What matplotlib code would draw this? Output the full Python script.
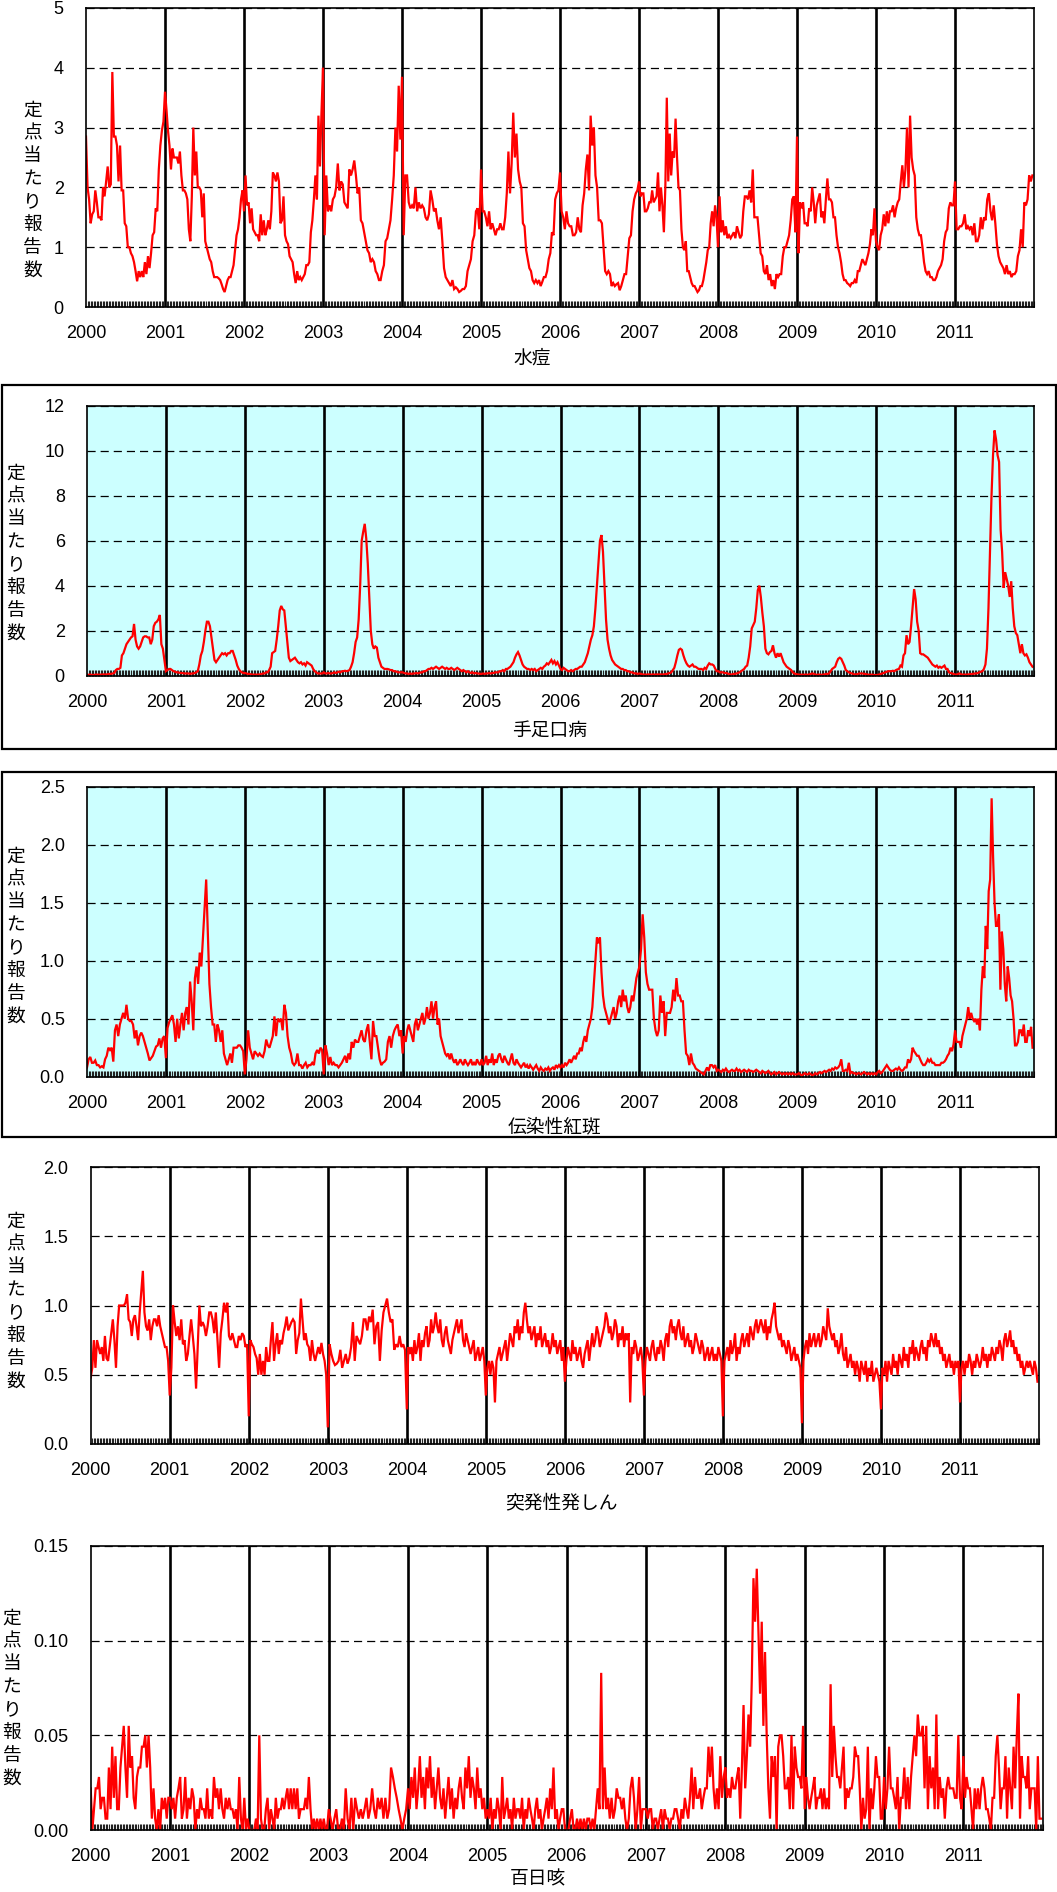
import numpy as np
import matplotlib
matplotlib.use("Agg")
import matplotlib.pyplot as plt
from matplotlib.patches import Rectangle

plt.rcParams["font.family"] = ["Liberation Sans", "Noto Sans CJK JP", "DejaVu Sans"]

years = list(range(2000, 2012))
year_labels = [str(y) for y in years]
ylabel_text = "定点当たり報告数"
disease_names = ["水痘", "手足口病", "伝染性紅斑", "突発性発しん", "百日咳"]

# Weekly reports per sentinel site, one list per year
varicella = {
    2000: [2.85, 2.0, 1.8, 1.4, 1.55, 1.6, 1.95, 1.75, 1.5, 1.5, 1.45, 2.0, 1.85, 2.1, 2.35, 2.0, 2.05, 3.93, 2.85, 2.85, 2.7, 2.1, 2.7, 1.95, 1.95, 1.4, 1.35, 1.0, 1.0, 0.9, 0.85, 0.75, 0.6, 0.43, 0.6, 0.5, 0.6, 0.5, 0.75, 0.55, 0.85, 0.65, 0.9, 1.2, 1.25, 1.65, 1.6, 2.3, 2.7, 2.95, 3.1],
    2001: [3.6, 3.3, 2.95, 2.7, 2.3, 2.65, 2.5, 2.5, 2.5, 2.4, 2.6, 2.2, 1.95, 1.95, 1.9, 1.8, 1.3, 1.1, 1.85, 3.0, 2.2, 2.6, 2.0, 2.0, 1.95, 1.5, 1.9, 1.1, 1.0, 0.9, 0.8, 0.75, 0.6, 0.5, 0.5, 0.5, 0.48, 0.45, 0.38, 0.3, 0.25, 0.35, 0.45, 0.5, 0.5, 0.6, 0.7, 0.95, 1.2, 1.3, 1.5, 1.8, 1.95],
    2002: [1.6, 2.2, 1.7, 1.75, 1.4, 1.65, 1.3, 1.25, 1.2, 1.2, 1.1, 1.55, 1.2, 1.45, 1.2, 1.3, 1.45, 1.3, 1.6, 2.25, 2.2, 2.1, 2.25, 2.1, 1.4, 1.45, 1.85, 1.2, 1.1, 1.05, 0.85, 0.8, 0.75, 0.55, 0.4, 0.6, 0.45, 0.5, 0.45, 0.5, 0.55, 0.7, 0.7, 0.75, 1.25, 1.45, 1.8, 2.2, 1.8, 3.2, 2.35, 3.25],
    2003: [4.0, 1.2, 2.2, 1.6, 1.7, 1.6, 1.8, 1.85, 2.0, 2.4, 1.95, 2.1, 2.05, 1.75, 1.7, 1.65, 2.3, 2.2, 2.3, 2.45, 2.2, 1.9, 2.0, 1.45, 1.4, 1.25, 1.1, 0.95, 0.9, 0.75, 0.8, 0.75, 0.6, 0.55, 0.45, 0.45, 0.6, 0.7, 1.1, 1.15, 1.3, 1.45, 1.8, 2.2, 3.0, 2.6, 3.7, 2.8],
    2004: [3.85, 1.2, 2.2, 2.2, 1.75, 1.65, 1.7, 1.65, 2.0, 1.6, 1.75, 1.65, 1.7, 1.65, 1.5, 1.45, 1.55, 1.95, 1.8, 1.6, 1.65, 1.45, 1.3, 1.5, 1.1, 0.65, 0.5, 0.45, 0.4, 0.35, 0.45, 0.3, 0.33, 0.3, 0.25, 0.27, 0.3, 0.3, 0.35, 0.6, 0.7, 0.8, 1.1, 1.2, 1.6, 1.65, 1.3],
    2005: [2.3, 1.6, 1.6, 1.5, 1.35, 1.6, 1.3, 1.4, 1.3, 1.2, 1.3, 1.3, 1.4, 1.3, 1.3, 1.5, 1.9, 2.6, 1.9, 2.4, 3.25, 2.5, 2.9, 2.3, 2.1, 2.0, 1.4, 1.35, 0.95, 0.8, 0.65, 0.6, 0.45, 0.4, 0.45, 0.4, 0.45, 0.35, 0.42, 0.5, 0.5, 0.6, 0.8, 0.9, 1.25, 1.2, 1.8, 1.9, 1.95],
    2006: [2.25, 1.6, 1.5, 1.3, 1.6, 1.4, 1.35, 1.35, 1.2, 1.2, 1.25, 1.5, 1.3, 1.25, 1.7, 1.9, 2.3, 2.55, 1.95, 3.2, 2.7, 3.0, 2.2, 2.0, 1.45, 1.45, 1.4, 1.0, 0.6, 0.55, 0.6, 0.55, 0.35, 0.4, 0.35, 0.38, 0.4, 0.28, 0.35, 0.45, 0.55, 0.55, 0.85, 1.15, 1.2, 1.6, 1.8, 1.9, 1.95],
    2007: [2.1, 1.85, 1.9, 1.9, 1.6, 1.6, 1.65, 1.75, 1.75, 1.95, 1.75, 1.8, 1.85, 2.25, 1.6, 2.0, 1.7, 1.25, 2.0, 3.5, 2.1, 2.9, 2.2, 2.6, 2.5, 3.15, 2.5, 2.0, 1.95, 1.3, 1.0, 0.95, 1.1, 0.6, 0.6, 0.5, 0.4, 0.35, 0.35, 0.3, 0.25, 0.28, 0.35, 0.35, 0.45, 0.6, 0.75, 0.95, 1.0, 1.4, 1.6, 1.35, 1.7, 1.5],
    2008: [1.0, 1.85, 1.25, 1.45, 1.2, 1.35, 1.15, 1.2, 1.15, 1.2, 1.25, 1.15, 1.35, 1.25, 1.15, 1.2, 1.6, 1.85, 1.85, 1.8, 1.95, 1.75, 2.3, 1.5, 1.5, 1.5, 1.2, 0.9, 0.85, 0.6, 0.55, 0.7, 0.45, 0.55, 0.35, 0.45, 0.3, 0.55, 0.5, 0.55, 0.55, 0.85, 1.0, 1.0, 1.1, 1.2, 1.45, 1.8, 1.85, 1.25],
    2009: [2.85, 0.9, 1.75, 1.65, 1.75, 1.4, 1.4, 1.35, 1.65, 1.6, 2.0, 1.75, 1.4, 1.7, 1.8, 1.9, 1.5, 1.6, 1.4, 1.8, 2.15, 1.8, 1.8, 1.75, 1.5, 1.5, 1.2, 1.0, 0.9, 0.75, 0.55, 0.45, 0.45, 0.4, 0.38, 0.35, 0.4, 0.4, 0.45, 0.4, 0.6, 0.6, 0.7, 0.8, 0.75, 0.7, 0.8, 0.9, 1.05, 1.3, 1.2, 1.65],
    2010: [1.1, 1.0, 0.95, 1.2, 1.3, 1.55, 1.35, 1.6, 1.4, 1.6, 1.6, 1.7, 1.5, 1.65, 1.75, 1.8, 2.1, 2.37, 2.0, 2.3, 3.0, 2.0, 3.2, 2.5, 2.3, 2.2, 1.5, 1.3, 1.2, 1.2, 1.0, 0.75, 0.6, 0.55, 0.6, 0.5, 0.5, 0.45, 0.45, 0.5, 0.6, 0.65, 0.7, 0.8, 1.1, 1.25, 1.3, 1.65, 1.75, 1.7, 1.7],
    2011: [2.1, 1.3, 1.3, 1.35, 1.35, 1.4, 1.55, 1.3, 1.35, 1.3, 1.35, 1.2, 1.4, 1.1, 1.1, 1.2, 1.5, 1.3, 1.5, 1.45, 1.8, 1.9, 1.6, 1.45, 1.7, 1.4, 1.05, 0.85, 0.75, 0.7, 0.65, 0.55, 0.7, 0.55, 0.6, 0.5, 0.55, 0.55, 0.6, 0.85, 0.95, 1.3, 1.0, 1.75, 1.7, 1.8, 2.2, 2.1, 2.2],
}

hfmd = {
    2000: [0.05, 0.04, 0.05, 0.04, 0.03, 0.04, 0.05, 0.05, 0.04, 0.05, 0.05, 0.06, 0.05, 0.06, 0.07, 0.08, 0.08, 0.1, 0.12, 0.25, 0.3, 0.3, 0.35, 0.9, 1.0, 1.2, 1.4, 1.5, 1.6, 1.7, 1.75, 2.3, 1.6, 1.3, 1.2, 1.3, 1.5, 1.7, 1.75, 1.75, 1.7, 1.7, 1.4, 1.6, 2.2, 2.35, 2.4, 2.5, 2.7, 1.4, 1.2, 0.7],
    2001: [0.2, 0.25, 0.3, 0.3, 0.25, 0.2, 0.18, 0.15, 0.15, 0.13, 0.12, 0.12, 0.1, 0.1, 0.1, 0.1, 0.08, 0.1, 0.1, 0.12, 0.15, 0.2, 0.5, 0.9, 1.1, 1.5, 2.0, 2.4, 2.4, 2.2, 1.7, 1.2, 0.7, 0.6, 0.7, 0.8, 0.9, 1.0, 0.95, 1.0, 0.9, 1.0, 1.0, 1.1, 1.1, 0.9, 0.7, 0.45, 0.3, 0.2, 0.15, 0.12],
    2002: [0.12, 0.1, 0.08, 0.08, 0.06, 0.05, 0.05, 0.05, 0.05, 0.05, 0.06, 0.08, 0.1, 0.1, 0.15, 0.15, 0.25, 0.4, 1.0, 1.05, 1.1, 1.6, 2.2, 2.9, 3.1, 2.95, 2.9, 2.2, 1.5, 0.8, 0.65, 0.7, 0.75, 0.8, 0.7, 0.6, 0.55, 0.6, 0.5, 0.55, 0.45, 0.6, 0.55, 0.5, 0.45, 0.3, 0.2, 0.15, 0.1, 0.1, 0.1, 0.1],
    2003: [0.15, 0.1, 0.1, 0.12, 0.1, 0.1, 0.12, 0.15, 0.12, 0.15, 0.18, 0.15, 0.2, 0.2, 0.22, 0.2, 0.22, 0.25, 0.4, 0.6, 1.0, 1.5, 1.7, 2.5, 4.0, 6.0, 6.4, 6.75, 6.1, 5.0, 3.5, 2.0, 1.4, 1.2, 1.3, 1.25, 0.8, 0.6, 0.4, 0.35, 0.3, 0.3, 0.3, 0.28, 0.25, 0.25, 0.2, 0.2, 0.18, 0.15, 0.15, 0.15],
    2004: [0.15, 0.12, 0.1, 0.1, 0.08, 0.1, 0.08, 0.1, 0.1, 0.12, 0.1, 0.12, 0.15, 0.15, 0.2, 0.2, 0.25, 0.3, 0.3, 0.35, 0.3, 0.35, 0.4, 0.35, 0.3, 0.35, 0.4, 0.35, 0.3, 0.35, 0.3, 0.3, 0.35, 0.3, 0.25, 0.3, 0.35, 0.3, 0.25, 0.2, 0.25, 0.2, 0.15, 0.2, 0.15, 0.12, 0.15, 0.1, 0.12, 0.1, 0.1, 0.08],
    2005: [0.08, 0.1, 0.08, 0.1, 0.1, 0.12, 0.1, 0.12, 0.12, 0.15, 0.15, 0.15, 0.2, 0.2, 0.25, 0.2, 0.3, 0.3, 0.35, 0.4, 0.5, 0.6, 0.8, 0.95, 1.05, 0.9, 0.7, 0.5, 0.4, 0.35, 0.3, 0.3, 0.25, 0.3, 0.25, 0.3, 0.2, 0.25, 0.3, 0.35, 0.3, 0.4, 0.45, 0.55, 0.5, 0.6, 0.7, 0.55, 0.65, 0.5, 0.6, 0.45],
    2006: [0.3, 0.25, 0.35, 0.3, 0.25, 0.2, 0.2, 0.25, 0.2, 0.25, 0.3, 0.3, 0.35, 0.4, 0.4, 0.5, 0.6, 0.8, 1.0, 1.3, 1.6, 1.8, 2.2, 3.0, 4.0, 5.0, 6.0, 6.25, 5.5, 4.0, 2.5, 1.6, 1.2, 0.9, 0.7, 0.6, 0.5, 0.45, 0.4, 0.35, 0.3, 0.3, 0.25, 0.25, 0.2, 0.2, 0.15, 0.15, 0.12, 0.1, 0.1, 0.08],
    2007: [0.1, 0.08, 0.06, 0.05, 0.05, 0.05, 0.06, 0.05, 0.05, 0.06, 0.05, 0.05, 0.06, 0.05, 0.06, 0.05, 0.06, 0.07, 0.08, 0.1, 0.12, 0.15, 0.25, 0.35, 0.6, 0.9, 1.15, 1.2, 1.15, 0.9, 0.7, 0.55, 0.45, 0.4, 0.45, 0.5, 0.4, 0.4, 0.35, 0.3, 0.3, 0.3, 0.25, 0.35, 0.3, 0.45, 0.55, 0.5, 0.5, 0.45, 0.3, 0.2],
    2008: [0.2, 0.15, 0.15, 0.15, 0.12, 0.12, 0.1, 0.08, 0.05, 0.06, 0.08, 0.08, 0.1, 0.12, 0.15, 0.2, 0.25, 0.3, 0.4, 0.45, 0.8, 1.3, 2.1, 2.25, 2.4, 3.0, 3.8, 4.0, 3.5, 2.8, 2.2, 1.2, 1.0, 0.95, 1.05, 1.1, 1.35, 1.0, 0.8, 1.0, 0.85, 1.0, 0.8, 0.6, 0.5, 0.4, 0.35, 0.3, 0.25, 0.15, 0.1, 0.08],
    2009: [0.06, 0.05, 0.04, 0.05, 0.04, 0.05, 0.05, 0.04, 0.06, 0.08, 0.1, 0.08, 0.05, 0.04, 0.05, 0.05, 0.04, 0.05, 0.06, 0.08, 0.08, 0.1, 0.2, 0.3, 0.35, 0.4, 0.6, 0.75, 0.8, 0.75, 0.6, 0.45, 0.25, 0.2, 0.15, 0.12, 0.1, 0.08, 0.05, 0.06, 0.08, 0.1, 0.1, 0.1, 0.08, 0.08, 0.05, 0.05, 0.04, 0.05, 0.04, 0.03],
    2010: [0.03, 0.04, 0.05, 0.08, 0.1, 0.12, 0.15, 0.18, 0.2, 0.2, 0.2, 0.22, 0.2, 0.25, 0.28, 0.3, 0.45, 0.4, 0.9, 1.0, 1.8, 1.4, 1.5, 2.2, 3.0, 3.85, 3.4, 2.4, 2.0, 1.0, 0.95, 0.95, 0.9, 0.85, 0.8, 0.7, 0.6, 0.5, 0.45, 0.4, 0.45, 0.35, 0.4, 0.35, 0.4, 0.45, 0.3, 0.3, 0.15, 0.12, 0.1, 0.08],
    2011: [0.05, 0.05, 0.08, 0.1, 0.06, 0.05, 0.05, 0.05, 0.05, 0.06, 0.07, 0.08, 0.08, 0.1, 0.1, 0.12, 0.15, 0.18, 0.2, 0.3, 0.5, 1.2, 3.0, 5.5, 8.0, 9.8, 10.9, 10.5, 9.8, 9.5, 6.5, 5.5, 3.9, 4.6, 4.3, 4.0, 3.5, 4.2, 3.0, 2.2, 1.9, 1.8, 1.4, 1.0, 1.4, 1.0, 0.9, 0.95, 0.8, 0.6, 0.5, 0.4],
}

erythema = {
    2000: [0.08, 0.15, 0.17, 0.12, 0.12, 0.14, 0.1, 0.1, 0.08, 0.09, 0.08, 0.15, 0.18, 0.25, 0.23, 0.25, 0.13, 0.4, 0.45, 0.35, 0.45, 0.5, 0.55, 0.5, 0.62, 0.5, 0.48, 0.48, 0.45, 0.33, 0.4, 0.27, 0.35, 0.38, 0.35, 0.3, 0.25, 0.2, 0.14, 0.16, 0.18, 0.22, 0.26, 0.27, 0.33, 0.25, 0.33, 0.35],
    2001: [0.16, 0.42, 0.47, 0.5, 0.53, 0.45, 0.3, 0.5, 0.33, 0.45, 0.55, 0.4, 0.55, 0.6, 0.45, 0.82, 0.65, 0.4, 0.85, 0.95, 0.8, 1.07, 0.95, 1.2, 1.45, 1.7, 1.25, 0.8, 0.6, 0.45, 0.45, 0.3, 0.45, 0.4, 0.3, 0.4, 0.2, 0.15, 0.1, 0.15, 0.2, 0.12, 0.25, 0.25, 0.25, 0.27, 0.27, 0.25, 0.22],
    2002: [0.02, 0.15, 0.4, 0.25, 0.2, 0.15, 0.22, 0.2, 0.18, 0.2, 0.18, 0.17, 0.22, 0.32, 0.27, 0.25, 0.3, 0.35, 0.52, 0.35, 0.5, 0.48, 0.5, 0.4, 0.62, 0.55, 0.35, 0.25, 0.2, 0.12, 0.1, 0.12, 0.2, 0.1, 0.1, 0.07, 0.1, 0.12, 0.08, 0.1, 0.1, 0.12, 0.1, 0.2, 0.23, 0.2, 0.25, 0.23],
    2003: [0.02, 0.27, 0.2, 0.1, 0.17, 0.1, 0.12, 0.1, 0.1, 0.08, 0.1, 0.12, 0.15, 0.18, 0.12, 0.2, 0.15, 0.3, 0.25, 0.32, 0.3, 0.3, 0.35, 0.4, 0.32, 0.3, 0.4, 0.45, 0.3, 0.15, 0.48, 0.35, 0.35, 0.25, 0.15, 0.1, 0.12, 0.13, 0.15, 0.3, 0.35, 0.25, 0.35, 0.4, 0.43, 0.45, 0.35, 0.4],
    2004: [0.2, 0.35, 0.3, 0.4, 0.45, 0.4, 0.35, 0.3, 0.45, 0.5, 0.4, 0.45, 0.5, 0.55, 0.45, 0.5, 0.6, 0.5, 0.55, 0.65, 0.5, 0.6, 0.65, 0.45, 0.5, 0.35, 0.3, 0.25, 0.2, 0.18, 0.2, 0.15, 0.2, 0.15, 0.12, 0.15, 0.1, 0.12, 0.15, 0.12, 0.1, 0.15, 0.12, 0.1, 0.12, 0.15, 0.1, 0.12, 0.1, 0.15, 0.12, 0.1],
    2005: [0.15, 0.1, 0.12, 0.18, 0.1, 0.15, 0.12, 0.2, 0.1, 0.15, 0.12, 0.18, 0.2, 0.15, 0.12, 0.18, 0.15, 0.12, 0.1, 0.15, 0.2, 0.12, 0.1, 0.15, 0.12, 0.1, 0.08, 0.1, 0.12, 0.08, 0.1, 0.07, 0.1, 0.08, 0.06, 0.08, 0.1, 0.07, 0.05, 0.08, 0.06, 0.05, 0.07, 0.06, 0.08, 0.05, 0.07, 0.08, 0.06, 0.1, 0.08, 0.1],
    2006: [0.08, 0.1, 0.08, 0.12, 0.1, 0.12, 0.15, 0.12, 0.15, 0.18, 0.15, 0.2, 0.2, 0.25, 0.22, 0.3, 0.35, 0.3, 0.4, 0.45, 0.5, 0.6, 0.8, 1.0, 1.2, 1.15, 1.2, 0.9, 0.7, 0.6, 0.55, 0.5, 0.45, 0.5, 0.55, 0.6, 0.5, 0.55, 0.65, 0.7, 0.6, 0.75, 0.65, 0.7, 0.6, 0.55, 0.6, 0.7, 0.65, 0.75, 0.85, 0.9],
    2007: [0.95, 1.1, 1.4, 1.2, 0.9, 0.8, 0.75, 0.75, 0.75, 0.5, 0.4, 0.35, 0.4, 0.7, 0.55, 0.65, 0.35, 0.55, 0.55, 0.55, 0.6, 0.75, 0.65, 0.85, 0.7, 0.7, 0.65, 0.65, 0.4, 0.2, 0.18, 0.1, 0.2, 0.12, 0.1, 0.07, 0.06, 0.05, 0.04, 0.03, 0.02, 0.05, 0.08, 0.05, 0.1, 0.1, 0.08, 0.1, 0.05],
    2008: [0.06, 0.05, 0.04, 0.06, 0.05, 0.07, 0.05, 0.04, 0.05, 0.06, 0.05, 0.05, 0.07, 0.05, 0.06, 0.04, 0.05, 0.06, 0.05, 0.04, 0.06, 0.05, 0.05, 0.04, 0.05, 0.06, 0.05, 0.04, 0.03, 0.05, 0.04, 0.03, 0.04, 0.05, 0.03, 0.02, 0.03, 0.04, 0.02, 0.03, 0.04, 0.03, 0.02, 0.03, 0.02, 0.03, 0.02, 0.03, 0.02, 0.03, 0.02, 0.02],
    2009: [0.02, 0.03, 0.02, 0.01, 0.02, 0.03, 0.02, 0.02, 0.03, 0.02, 0.01, 0.02, 0.03, 0.02, 0.03, 0.04, 0.03, 0.04, 0.05, 0.04, 0.05, 0.06, 0.05, 0.07, 0.06, 0.08, 0.07, 0.08, 0.1, 0.15, 0.05, 0.05, 0.06, 0.05, 0.12, 0.03, 0.04, 0.03, 0.03, 0.02, 0.03, 0.03, 0.02, 0.03, 0.04, 0.03, 0.02, 0.03, 0.02, 0.03, 0.02, 0.03],
    2010: [0.02, 0.04, 0.05, 0.03, 0.04, 0.06, 0.08, 0.1, 0.08, 0.06, 0.05, 0.05, 0.06, 0.07, 0.06, 0.08, 0.06, 0.05, 0.06, 0.08, 0.08, 0.15, 0.12, 0.15, 0.25, 0.22, 0.2, 0.18, 0.18, 0.15, 0.12, 0.1, 0.1, 0.12, 0.15, 0.13, 0.15, 0.12, 0.12, 0.1, 0.1, 0.1, 0.1, 0.12, 0.12, 0.13, 0.15, 0.18, 0.2, 0.25, 0.22, 0.28],
    2011: [0.4, 0.3, 0.3, 0.3, 0.25, 0.35, 0.4, 0.45, 0.5, 0.6, 0.5, 0.55, 0.5, 0.48, 0.5, 0.45, 0.5, 0.4, 0.75, 0.95, 0.85, 1.3, 1.1, 1.6, 1.7, 2.4, 1.9, 1.5, 1.3, 1.3, 1.4, 0.75, 1.25, 1.1, 0.8, 0.65, 0.95, 0.85, 0.7, 0.65, 0.5, 0.27, 0.27, 0.3, 0.4, 0.4, 0.35, 0.45, 0.3, 0.3, 0.4, 0.35, 0.43, 0.25],
}

roseola = {
    2000: [0.48, 0.55, 0.75, 0.55, 0.75, 0.7, 0.65, 0.7, 0.6, 0.78, 0.62, 0.6, 0.7, 0.8, 0.9, 0.75, 0.55, 0.85, 1.0, 1.0, 1.0, 1.0, 1.02, 1.08, 0.9, 0.88, 0.78, 0.9, 0.93, 0.85, 0.75, 0.95, 1.1, 1.25, 0.95, 0.85, 0.82, 0.9, 0.75, 0.85, 0.9, 0.9, 0.85, 0.93, 0.85, 0.8, 0.75, 0.7, 0.7, 0.6],
    2001: [0.35, 0.55, 1.0, 0.88, 0.78, 0.85, 0.75, 0.9, 0.72, 0.75, 0.6, 0.65, 0.78, 0.9, 0.78, 0.65, 0.4, 0.7, 1.0, 0.85, 0.88, 0.85, 0.78, 0.85, 0.95, 0.95, 0.9, 0.8, 0.95, 0.75, 0.55, 0.8, 0.9, 1.02, 0.95, 1.02, 0.78, 0.75, 0.8, 0.75, 0.7, 0.7, 0.78, 0.75, 0.8, 0.78, 0.7, 0.72],
    2002: [0.2, 0.75, 0.72, 0.7, 0.65, 0.62, 0.5, 0.65, 0.5, 0.6, 0.5, 0.7, 0.6, 0.6, 0.75, 0.88, 0.6, 0.72, 0.8, 0.65, 0.75, 0.72, 0.8, 0.85, 0.92, 0.82, 0.85, 0.88, 0.9, 0.88, 0.65, 0.75, 0.8, 1.05, 0.9, 0.75, 0.8, 0.72, 0.7, 0.6, 0.75, 0.65, 0.6, 0.65, 0.7, 0.65, 0.73, 0.65, 0.6, 0.5],
    2003: [0.12, 0.72, 0.65, 0.6, 0.57, 0.58, 0.6, 0.68, 0.55, 0.6, 0.65, 0.58, 0.62, 0.7, 0.88, 0.6, 0.78, 0.75, 0.72, 0.78, 0.9, 0.9, 0.82, 0.92, 0.88, 0.97, 0.72, 0.85, 0.88, 0.6, 0.82, 0.95, 1.0, 1.05, 0.95, 0.88, 0.9, 0.68, 0.72, 0.7, 0.78, 0.7, 0.72, 0.68],
    2004: [0.25, 0.7, 0.65, 0.7, 0.6, 0.75, 0.65, 0.7, 0.8, 0.6, 0.75, 0.7, 0.8, 0.85, 0.7, 0.75, 0.9, 0.8, 0.85, 0.95, 0.85, 0.8, 0.9, 0.75, 0.7, 0.8, 0.85, 0.75, 0.7, 0.65, 0.75, 0.8, 0.85, 0.9, 0.8, 0.85, 0.9, 0.75, 0.7, 0.8, 0.75, 0.7, 0.65, 0.7, 0.75, 0.6, 0.65, 0.7, 0.6, 0.65, 0.7, 0.6],
    2005: [0.35, 0.55, 0.6, 0.5, 0.6, 0.55, 0.3, 0.6, 0.65, 0.7, 0.6, 0.65, 0.7, 0.75, 0.6, 0.7, 0.8, 0.75, 0.7, 0.85, 0.8, 0.9, 0.75, 0.85, 0.8, 0.95, 1.02, 0.9, 0.8, 0.85, 0.75, 0.8, 0.85, 0.7, 0.8, 0.75, 0.85, 0.7, 0.75, 0.8, 0.7, 0.75, 0.65, 0.7, 0.8, 0.7, 0.75, 0.65, 0.7, 0.75, 0.6, 0.7],
    2006: [0.45, 0.6, 0.7, 0.65, 0.6, 0.75, 0.65, 0.7, 0.6, 0.65, 0.7, 0.6, 0.55, 0.65, 0.7, 0.75, 0.6, 0.7, 0.8, 0.7, 0.75, 0.85, 0.8, 0.7, 0.75, 0.8, 0.85, 0.95, 0.9, 0.8, 0.85, 0.75, 0.8, 0.9, 0.85, 0.7, 0.8, 0.75, 0.85, 0.7, 0.8, 0.75, 0.8, 0.3, 0.7, 0.65, 0.75, 0.7, 0.6, 0.65, 0.7, 0.6],
    2007: [0.35, 0.6, 0.7, 0.65, 0.6, 0.7, 0.75, 0.65, 0.6, 0.7, 0.65, 0.75, 0.7, 0.6, 0.75, 0.8, 0.7, 0.85, 0.9, 0.8, 0.85, 0.75, 0.85, 0.9, 0.8, 0.75, 0.85, 0.7, 0.75, 0.8, 0.7, 0.75, 0.65, 0.7, 0.8, 0.75, 0.7, 0.65, 0.75, 0.7, 0.6, 0.65, 0.7, 0.6, 0.65, 0.7, 0.6, 0.65, 0.6, 0.7, 0.65, 0.6],
    2008: [0.2, 0.6, 0.65, 0.7, 0.6, 0.75, 0.65, 0.7, 0.8, 0.6, 0.7, 0.65, 0.75, 0.8, 0.7, 0.75, 0.8, 0.7, 0.85, 0.8, 0.75, 0.85, 0.9, 0.8, 0.85, 0.9, 0.85, 0.8, 0.9, 0.75, 0.85, 0.8, 0.9, 0.95, 1.02, 0.85, 0.8, 0.75, 0.8, 0.7, 0.75, 0.7, 0.65, 0.75, 0.7, 0.6, 0.65, 0.7, 0.6, 0.65, 0.6, 0.55],
    2009: [0.15, 0.6, 0.7, 0.75, 0.65, 0.8, 0.7, 0.75, 0.8, 0.7, 0.75, 0.8, 0.7, 0.75, 0.85, 0.8, 0.75, 0.98, 0.85, 0.8, 0.75, 0.8, 0.7, 0.75, 0.65, 0.7, 0.8, 0.65, 0.6, 0.7, 0.55, 0.6, 0.65, 0.55, 0.6, 0.5, 0.6, 0.55, 0.45, 0.6, 0.55, 0.5, 0.6, 0.45, 0.55, 0.5, 0.6, 0.45, 0.5, 0.55, 0.5, 0.45],
    2010: [0.25, 0.55, 0.5, 0.6, 0.45, 0.6, 0.55, 0.5, 0.65, 0.55, 0.6, 0.5, 0.65, 0.6, 0.55, 0.7, 0.6, 0.65, 0.55, 0.7, 0.65, 0.75, 0.6, 0.7, 0.65, 0.6, 0.7, 0.75, 0.65, 0.7, 0.6, 0.75, 0.7, 0.8, 0.75, 0.7, 0.8, 0.7, 0.75, 0.65, 0.7, 0.6, 0.65, 0.55, 0.6, 0.65, 0.55, 0.6, 0.5, 0.6, 0.55, 0.6],
    2011: [0.3, 0.55, 0.6, 0.5, 0.6, 0.55, 0.65, 0.6, 0.5, 0.6, 0.55, 0.65, 0.6, 0.55, 0.6, 0.7, 0.6, 0.65, 0.55, 0.65, 0.6, 0.7, 0.65, 0.6, 0.7, 0.65, 0.75, 0.7, 0.6, 0.75, 0.8, 0.7, 0.75, 0.82, 0.7, 0.75, 0.65, 0.7, 0.6, 0.65, 0.55, 0.6, 0.5, 0.55, 0.6, 0.55, 0.6, 0.55, 0.5, 0.6, 0.55, 0.45],
}

pertussis = {
    2000: [0.022, 0.0, 0.011, 0.022, 0.022, 0.028, 0.011, 0.017, 0.017, 0.006, 0.006, 0.033, 0.011, 0.044, 0.017, 0.039, 0.011, 0.011, 0.033, 0.044, 0.055, 0.033, 0.017, 0.055, 0.033, 0.039, 0.017, 0.011, 0.028, 0.033, 0.033, 0.044, 0.044, 0.05, 0.033, 0.05, 0.033, 0.006, 0.022, 0.006, 0.0, 0.011, 0.0, 0.017, 0.011, 0.017, 0.006, 0.017],
    2001: [0.017, 0.011, 0.017, 0.006, 0.017, 0.022, 0.028, 0.006, 0.011, 0.028, 0.006, 0.017, 0.011, 0.022, 0.017, 0.0, 0.011, 0.006, 0.017, 0.011, 0.011, 0.006, 0.022, 0.006, 0.011, 0.006, 0.028, 0.017, 0.022, 0.011, 0.022, 0.011, 0.006, 0.017, 0.011, 0.017, 0.011, 0.011, 0.006, 0.011, 0.0, 0.028, 0.006, 0.0, 0.017, 0.0, 0.006],
    2002: [0.0, 0.0, 0.0, 0.0, 0.006, 0.0, 0.05, 0.006, 0.0, 0.0, 0.011, 0.017, 0.0, 0.011, 0.006, 0.0, 0.017, 0.006, 0.011, 0.011, 0.017, 0.011, 0.017, 0.022, 0.011, 0.022, 0.011, 0.022, 0.011, 0.022, 0.006, 0.011, 0.011, 0.011, 0.017, 0.011, 0.028, 0.011, 0.0, 0.006, 0.0, 0.006, 0.0, 0.006, 0.0, 0.006, 0.0, 0.0],
    2003: [0.011, 0.006, 0.0, 0.006, 0.011, 0.0, 0.0, 0.006, 0.0, 0.022, 0.006, 0.0, 0.017, 0.0, 0.017, 0.011, 0.006, 0.011, 0.006, 0.011, 0.017, 0.006, 0.011, 0.022, 0.011, 0.006, 0.017, 0.011, 0.017, 0.006, 0.017, 0.006, 0.011, 0.033, 0.028, 0.022, 0.017, 0.011, 0.006, 0.0, 0.006, 0.011],
    2004: [0.022, 0.011, 0.028, 0.017, 0.033, 0.011, 0.022, 0.039, 0.017, 0.028, 0.011, 0.033, 0.022, 0.039, 0.017, 0.028, 0.011, 0.022, 0.033, 0.017, 0.011, 0.022, 0.006, 0.017, 0.028, 0.011, 0.022, 0.006, 0.017, 0.011, 0.022, 0.028, 0.017, 0.011, 0.033, 0.022, 0.039, 0.017, 0.028, 0.022, 0.011, 0.033, 0.017, 0.022, 0.011, 0.017, 0.006],
    2005: [0.011, 0.006, 0.017, 0.0, 0.011, 0.006, 0.017, 0.011, 0.0, 0.028, 0.006, 0.011, 0.017, 0.006, 0.011, 0.0, 0.017, 0.006, 0.011, 0.011, 0.006, 0.017, 0.0, 0.011, 0.006, 0.017, 0.011, 0.006, 0.0, 0.011, 0.017, 0.006, 0.011, 0.0, 0.006, 0.011, 0.017, 0.006, 0.022, 0.011, 0.033, 0.006, 0.011, 0.0, 0.006, 0.011, 0.011, 0.0],
    2006: [0.0, 0.0, 0.006, 0.011, 0.0, 0.0, 0.006, 0.0, 0.006, 0.0, 0.006, 0.0, 0.006, 0.006, 0.0, 0.006, 0.0, 0.011, 0.022, 0.011, 0.083, 0.011, 0.033, 0.011, 0.017, 0.006, 0.017, 0.006, 0.011, 0.022, 0.017, 0.017, 0.011, 0.017, 0.006, 0.0, 0.006, 0.022, 0.028, 0.017, 0.0, 0.011, 0.028, 0.0, 0.011, 0.011],
    2007: [0.011, 0.006, 0.011, 0.011, 0.0, 0.006, 0.006, 0.0, 0.006, 0.011, 0.0, 0.011, 0.006, 0.006, 0.0, 0.006, 0.006, 0.011, 0.011, 0.006, 0.0, 0.011, 0.006, 0.017, 0.011, 0.006, 0.017, 0.033, 0.011, 0.028, 0.017, 0.017, 0.022, 0.011, 0.017, 0.022, 0.022, 0.044, 0.028, 0.044, 0.022, 0.011, 0.022, 0.011, 0.039, 0.017, 0.028],
    2008: [0.033, 0.017, 0.022, 0.017, 0.028, 0.022, 0.022, 0.028, 0.033, 0.006, 0.033, 0.066, 0.022, 0.039, 0.061, 0.044, 0.08, 0.133, 0.11, 0.138, 0.105, 0.072, 0.11, 0.055, 0.094, 0.05, 0.022, 0.006, 0.039, 0.028, 0.039, 0.0, 0.044, 0.05, 0.05, 0.039, 0.022, 0.022, 0.028, 0.011, 0.05, 0.011, 0.044, 0.033, 0.028, 0.028, 0.022, 0.055],
    2009: [0.011, 0.028, 0.017, 0.011, 0.017, 0.022, 0.028, 0.011, 0.017, 0.017, 0.022, 0.011, 0.022, 0.011, 0.017, 0.011, 0.077, 0.028, 0.055, 0.039, 0.028, 0.028, 0.022, 0.033, 0.044, 0.011, 0.022, 0.017, 0.022, 0.022, 0.028, 0.044, 0.039, 0.039, 0.022, 0.0, 0.017, 0.006, 0.011, 0.044, 0.0, 0.022, 0.011, 0.022, 0.039, 0.028, 0.028, 0.006, 0.006],
    2010: [0.028, 0.011, 0.022, 0.044, 0.022, 0.022, 0.017, 0.011, 0.028, 0.0, 0.017, 0.017, 0.033, 0.011, 0.028, 0.011, 0.028, 0.039, 0.05, 0.039, 0.061, 0.05, 0.05, 0.055, 0.022, 0.055, 0.011, 0.039, 0.022, 0.033, 0.011, 0.061, 0.011, 0.028, 0.017, 0.022, 0.006, 0.022, 0.028, 0.022, 0.022, 0.022, 0.017, 0.017, 0.05, 0.017, 0.011],
    2011: [0.039, 0.017, 0.028, 0.022, 0.022, 0.011, 0.0, 0.022, 0.011, 0.022, 0.011, 0.022, 0.028, 0.022, 0.011, 0.011, 0.006, 0.0, 0.017, 0.017, 0.039, 0.05, 0.033, 0.011, 0.022, 0.022, 0.039, 0.006, 0.033, 0.022, 0.011, 0.044, 0.022, 0.05, 0.072, 0.006, 0.039, 0.028, 0.028, 0.022, 0.039, 0.011, 0.022, 0.022, 0.022, 0.0, 0.039, 0.006, 0.006],
}

series = [varicella, hfmd, erythema, roseola, pertussis]
y_ticks = [
    [0, 1, 2, 3, 4, 5],
    [0, 2, 4, 6, 8, 10, 12],
    [0.0, 0.5, 1.0, 1.5, 2.0, 2.5],
    [0.0, 0.5, 1.0, 1.5, 2.0],
    [0.0, 0.05, 0.10, 0.15],
]
y_formats = ["{:.0f}", "{:.0f}", "{:.1f}", "{:.1f}", "{:.2f}"]

# Layout in figure pixels: (left, top, right, bottom)
W, H = 1057, 1892
axes_boxes = [
    (86, 8, 1034, 307),
    (87, 405.7, 1034, 675.7),
    (87, 786.7, 1034, 1076.7),
    (90.7, 1167, 1039, 1444),
    (90.7, 1546, 1042.7, 1830),
]
face_colors = ["white", "#CCFFFF", "#CCFFFF", "white", "white"]
outer_frames = [None, (2, 385, 1056, 749), (2, 772, 1056, 1137), None, None]
ylabel_pos = [(32.5, 190), (16, 553), (16, 936), (16, 1301), (12, 1698)]
xlabel_pos = [(532, 358), (550, 730), (555, 1127), (561, 1503), (538, 1879)]


def weekly_series(by_year):
    xs, ys = [], []
    for yr in years:
        vals = by_year[yr]
        n = len(vals)
        xs.extend(yr + np.arange(n) / n)
        ys.extend(vals)
    return np.array(xs), np.array(ys)


fig = plt.figure(figsize=(W / 100, H / 100), dpi=100)
fig.patch.set_facecolor("white")

cjk = ["Noto Sans CJK JP", "DejaVu Sans"]

for k, data in enumerate(series):
    left, top, right, bottom = axes_boxes[k]
    ax = fig.add_axes([left / W, 1 - bottom / H, (right - left) / W, (bottom - top) / H])
    ax.set_facecolor(face_colors[k])

    xs, ys = weekly_series(data)
    ax.plot(xs, ys, color="#FF0000", lw=1.6, zorder=5, solid_joinstyle="miter")

    ticks = y_ticks[k]
    ax.set_ylim(ticks[0], ticks[-1])
    ax.set_xlim(years[0], years[-1] + 1)

    for t in ticks[1:]:
        ax.axhline(t, color="black", lw=0.9, dashes=(6.5, 4.0), zorder=2)
    for yr in years[1:]:
        ax.axvline(yr, color="black", lw=1.9, zorder=3)

    ax.set_yticks(ticks)
    ax.set_yticklabels([y_formats[k].format(t) for t in ticks], fontsize=13,
                       family=["Liberation Sans"])
    ax.set_xticks(years)
    ax.set_xticklabels(year_labels, fontsize=13, family=["Liberation Sans"])
    ax.set_xticks(np.arange(years[0], years[-1] + 1 + 1e-9, 1 / 52), minor=True)
    ax.tick_params(axis="y", which="both", length=0, pad=16)
    ax.tick_params(axis="x", which="major", length=0, pad=13)
    ax.tick_params(axis="x", which="minor", direction="in", length=4.2, width=0.8,
                   color="#222222")
    for sp in ax.spines.values():
        sp.set_color("black")
        sp.set_linewidth(1.2)
        sp.set_zorder(6)

    # vertical label, one character per line
    cx, cy = ylabel_pos[k]
    pitch = 22.9
    n = len(ylabel_text)
    for i, ch in enumerate(ylabel_text):
        py = cy + (i - (n - 1) / 2) * pitch
        fig.text(cx / W, 1 - py / H, ch, ha="center", va="center",
                 fontsize=13.5, family=cjk)

    lx, ly = xlabel_pos[k]
    fig.text(lx / W, 1 - ly / H, disease_names[k], ha="center", va="center",
             fontsize=13.5, family=cjk)

    if outer_frames[k] is not None:
        fl, ft, fr, fb = outer_frames[k]
        fig.patches.append(Rectangle((fl / W, 1 - fb / H), (fr - fl) / W, (fb - ft) / H,
                                     transform=fig.transFigure, fill=False,
                                     edgecolor="black", lw=1.6, zorder=0))

fig.savefig("out.png", dpi=100, facecolor="white")
